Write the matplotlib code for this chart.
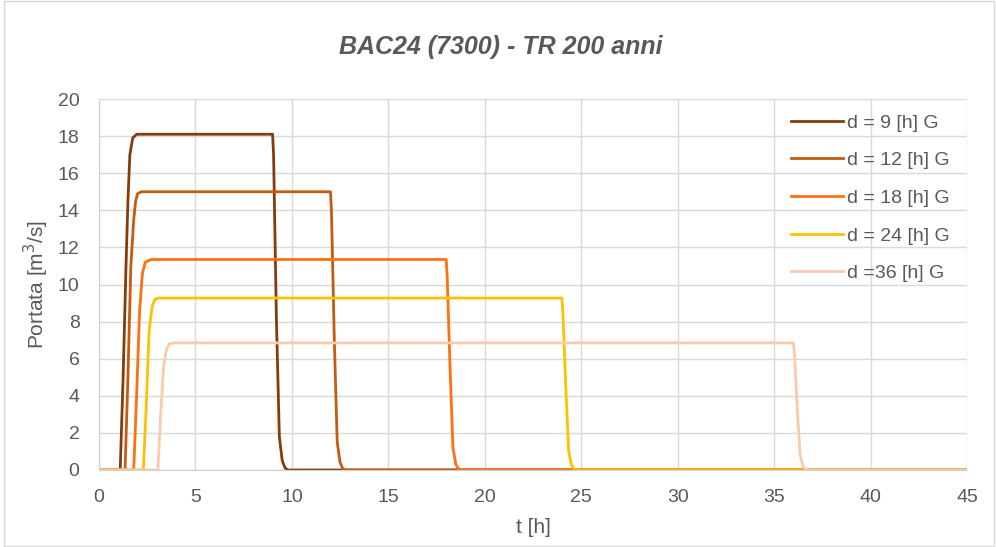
import matplotlib
matplotlib.use("Agg")
import matplotlib.pyplot as plt
from matplotlib.patches import Rectangle

plt.rcParams['font.family'] = ['Liberation Sans', 'DejaVu Sans']

title = "BAC24 (7300) - TR 200 anni"
labels = ["d = 9 [h] G", "d = 12 [h] G", "d = 18 [h] G", "d = 24 [h] G", "d =36 [h] G"]
colors = ["#843C0C", "#C55A11", "#FF7010", "#FFC000", "#F8CBAD"]

t_d9 = [0, 1.1, 1.25, 1.4, 1.5, 1.6, 1.75, 1.95, 9.0, 9.05, 9.2, 9.35, 9.5, 9.65, 9.8, 45]
q_d9 = [0, 0, 5.0, 11.0, 14.5, 17.0, 17.9, 18.1, 18.1, 17.0, 8.0, 1.8, 0.5, 0.1, 0, 0]

t_d12 = [0, 1.35, 1.5, 1.65, 1.8, 1.9, 2.0, 2.2, 12.0, 12.05, 12.2, 12.35, 12.5, 12.65, 12.8, 45]
q_d12 = [0, 0, 5.0, 11.0, 13.5, 14.5, 14.9, 15.0, 15.0, 14.0, 7.0, 1.5, 0.4, 0.05, 0, 0]

t_d18 = [0, 1.8, 1.95, 2.1, 2.25, 2.4, 2.7, 18.0, 18.05, 18.2, 18.35, 18.5, 18.65, 18.8, 45]
q_d18 = [0, 0, 4.0, 8.5, 10.6, 11.2, 11.35, 11.35, 10.5, 5.5, 1.2, 0.3, 0.05, 0, 0]

t_d24 = [0, 2.3, 2.45, 2.6, 2.75, 2.9, 3.1, 24.0, 24.05, 24.2, 24.35, 24.5, 24.65, 24.8, 45]
q_d24 = [0, 0, 3.5, 7.5, 8.8, 9.2, 9.27, 9.27, 8.5, 4.5, 1.0, 0.25, 0.05, 0, 0]

t_d36 = [0, 3.05, 3.2, 3.35, 3.5, 3.65, 3.9, 36.0, 36.05, 36.2, 36.35, 36.5, 36.65, 36.8, 45]
q_d36 = [0, 0, 3.0, 5.6, 6.5, 6.8, 6.85, 6.85, 6.3, 3.3, 0.8, 0.2, 0.04, 0, 0]

series = [(t_d9, q_d9), (t_d12, q_d12), (t_d18, q_d18), (t_d24, q_d24), (t_d36, q_d36)]

xticks = list(range(0, 46, 5))
yticks = list(range(0, 21, 2))

fig = plt.figure(figsize=(9.96, 5.47), dpi=100)
fig.patches.append(Rectangle((4/996, 0.001), 0.994, 0.997, transform=fig.transFigure,
                             fill=False, edgecolor="#D9D9D9", linewidth=1.0))
ax = fig.add_axes([99/996, 1 - 470/547, (967 - 99)/996, (470 - 99)/547])

for (t, q), c, lab in zip(series, colors, labels):
    ax.plot(t, q, color=c, linewidth=2.0, label=lab, solid_joinstyle='round')

ax.set_xlim(0, 45)
ax.set_ylim(0, 20)
ax.set_xticks(xticks)
ax.set_yticks(yticks)
ax.grid(True, color="#D9D9D9", linewidth=1.0)
ax.set_axisbelow(True)
for s in ["top", "right"]:
    ax.spines[s].set_visible(False)
ax.spines["left"].set_color("#D0D0D0")
ax.spines["bottom"].set_color("#D0D0D0")
ax.tick_params(length=0, labelsize=14, labelcolor="#595959")
ax.tick_params(axis="y", pad=14)
ax.tick_params(axis="x", pad=14)

ax.set_xlabel("t [h]", fontsize=15, color="#595959", labelpad=8)
ax.set_ylabel("Portata [m$^3$/s]", fontsize=15, color="#595959", labelpad=5)
fig.text(0.503, 1 - 47/547, title, ha="center", va="center", fontsize=18,
         style="italic", fontweight="bold", color="#595959")

leg = ax.legend(loc="upper left", bbox_to_anchor=(791/996, 1 - 114/547),
                bbox_transform=fig.transFigure, frameon=False, fontsize=14,
                handlelength=2.67, handletextpad=0.2, labelspacing=1.03,
                borderpad=0, borderaxespad=0)
for txt in leg.get_texts():
    txt.set_color("#595959")

fig.savefig("out.png", dpi=100)
